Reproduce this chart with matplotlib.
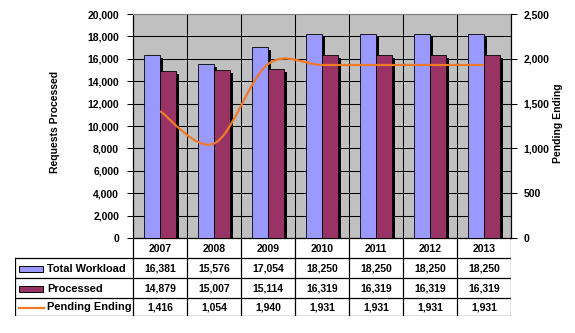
import matplotlib
matplotlib.use("Agg")
import matplotlib.pyplot as plt
from matplotlib.path import Path
from matplotlib.patches import PathPatch, Rectangle
from matplotlib.ticker import FuncFormatter, FixedLocator

# ------------------------------------------------------------
# data
# ------------------------------------------------------------
years = ["2007", "2008", "2009", "2010", "2011", "2012", "2013"]
total_workload = [16381, 15576, 17054, 18250, 18250, 18250, 18250]
processed = [14879, 15007, 15114, 16319, 16319, 16319, 16319]
pending_ending = [1416, 1054, 1940, 1931, 1931, 1931, 1931]

series_names = ["Total Workload", "Processed", "Pending Ending"]

WORKLOAD_COLOR = "#9999FF"
PROCESSED_COLOR = "#993366"
PENDING_COLOR = "#F07A28"
PLOT_BG = "#C0C0C0"

plt.rcParams["font.family"] = ["Liberation Sans", "DejaVu Sans"]
plt.rcParams["font.weight"] = "bold"
FS = 7.5

W, H = 575, 333
fig = plt.figure(figsize=(W / 100, H / 100), dpi=100)


def px_box(left, top, right, bottom):
    return [left / W, 1 - bottom / H, (right - left) / W, (bottom - top) / H]


# plot area in pixels
PL, PT, PR, PB = 133, 14, 511, 238
TB = 316
n = len(years)
cat_px = (PR - PL) / n

ax = fig.add_axes(px_box(PL, PT, PR, PB))
ax.set_facecolor(PLOT_BG)
ax.set_axisbelow(True)
x = list(range(n))

# bars with a dark 3D-like depth on the right
bw = 0.285
off = 0.15
dx = 3 / cat_px
dy = 3 * 20000 / (PB - PT)
xw = [i - off for i in x]
xp = [i + off for i in x]
ax.bar([v + dx for v in xw], [v - dy for v in total_workload], bw,
       color="black", zorder=2)
ax.bar([v + dx for v in xp], [v - dy for v in processed], bw,
       color="black", zorder=2)
ax.bar(xw, total_workload, bw, color=WORKLOAD_COLOR, edgecolor="black",
       linewidth=0.6, zorder=3)
ax.bar(xp, processed, bw, color=PROCESSED_COLOR, edgecolor="black",
       linewidth=0.6, zorder=3)

ax.set_xlim(-0.5, n - 0.5)
ax.set_ylim(0, 20000)
ax.set_yticks(range(0, 20001, 2000))
ax.yaxis.set_major_formatter(FuncFormatter(lambda v, p: f"{int(v):,}"))
ax.set_xticks([])
ax.xaxis.set_minor_locator(FixedLocator([i + 0.5 for i in range(n - 1)]))
ax.grid(axis="y", which="major", color="black", linewidth=0.75)
ax.grid(axis="x", which="minor", color="black", linewidth=0.75)
ax.tick_params(axis="x", which="both", length=0)
ax.tick_params(axis="y", length=4, width=0.75, labelsize=FS, pad=6)
for lab in ax.get_yticklabels():
    lab.set_fontweight("bold")
ax.spines["top"].set_color("#808080")
ax.spines["right"].set_visible(False)
for s in ("left", "bottom"):
    ax.spines[s].set_linewidth(0.9)

# pending ending on the secondary axis, smoothed like the original
ax2 = ax.twinx()
ax2.set_ylim(0, 2500)
ax2.set_yticks(range(0, 2501, 500))
ax2.yaxis.set_major_formatter(FuncFormatter(lambda v, p: f"{int(v):,}"))
ax2.tick_params(axis="y", length=4, width=0.75, labelsize=FS, pad=5)
for lab in ax2.get_yticklabels():
    lab.set_fontweight("bold")
for s in ("top", "left", "bottom"):
    ax2.spines[s].set_visible(False)
ax2.spines["right"].set_linewidth(0.9)

pts = list(zip(x, pending_ending))
verts = [pts[0]]
codes = [Path.MOVETO]
for i in range(n - 1):
    p0 = pts[max(i - 1, 0)]
    p1 = pts[i]
    p2 = pts[i + 1]
    p3 = pts[min(i + 2, n - 1)]
    c1 = (p1[0] + (p2[0] - p0[0]) / 6, p1[1] + (p2[1] - p0[1]) / 6)
    c2 = (p2[0] - (p3[0] - p1[0]) / 6, p2[1] - (p3[1] - p1[1]) / 6)
    verts += [c1, c2, p2]
    codes += [Path.CURVE4] * 3
ax2.add_patch(PathPatch(Path(verts, codes), facecolor="none",
                        edgecolor=PENDING_COLOR, linewidth=1.6, zorder=5))

fig.text(55 / W, 1 - 122 / H, "Requests Processed", rotation=90,
         ha="center", va="center", fontsize=FS, fontweight="bold")
fig.text(558 / W, 1 - 123 / H, "Pending Ending", rotation=90,
         ha="center", va="center", fontsize=FS, fontweight="bold")

# ------------------------------------------------------------
# data table below the chart
# ------------------------------------------------------------
TL = 15
tab = fig.add_axes(px_box(TL, PB, PR, TB))
tab.set_xlim(n - 0.5 - (PR - TL) / cat_px, n - 0.5)
tab.set_ylim(TB - PB, 0)
tab.axis("off")
x0 = tab.get_xlim()[0]
row_edges = [0, 20, 40, 60, 78]
lw = 0.9

# horizontal rules
tab.plot([x0, n - 0.5], [row_edges[1]] * 2, color="black", lw=lw)
for r in row_edges[2:]:
    tab.plot([x0, n - 0.5], [r, r], color="black", lw=lw)
# vertical rules
tab.plot([x0, x0], [row_edges[1], row_edges[-1]], color="black", lw=lw)
for i in range(n + 1):
    tab.plot([i - 0.5, i - 0.5], [0, row_edges[-1]], color="black", lw=lw)

for i, yr in enumerate(years):
    tab.text(i, 10.5, yr, ha="center", va="center", fontsize=FS,
             fontweight="bold")

rows = [total_workload, processed, pending_ending]
for r, vals in enumerate(rows):
    yc = (row_edges[r + 1] + row_edges[r + 2]) / 2 + 0.5
    for i, v in enumerate(vals):
        tab.text(i, yc, f"{v:,}", ha="center", va="center", fontsize=FS,
                 fontweight="bold")
    tab.text(x0 + 32 / cat_px, yc, series_names[r], ha="left", va="center",
             fontsize=FS + 0.4, fontweight="bold")

# legend keys
sx0 = x0 + 4 / cat_px
sw = 24 / cat_px
for r, col in enumerate([WORKLOAD_COLOR, PROCESSED_COLOR]):
    yc = (row_edges[r + 1] + row_edges[r + 2]) / 2 + 1
    tab.add_patch(Rectangle((sx0, yc - 3.3), sw, 6.6, facecolor=col,
                            edgecolor="black", linewidth=0.7))
yc = (row_edges[3] + row_edges[4]) / 2 + 1
tab.plot([sx0, sx0 + sw + 1 / cat_px], [yc, yc], color=PENDING_COLOR, lw=1.6)

fig.savefig("out.png", dpi=100)
